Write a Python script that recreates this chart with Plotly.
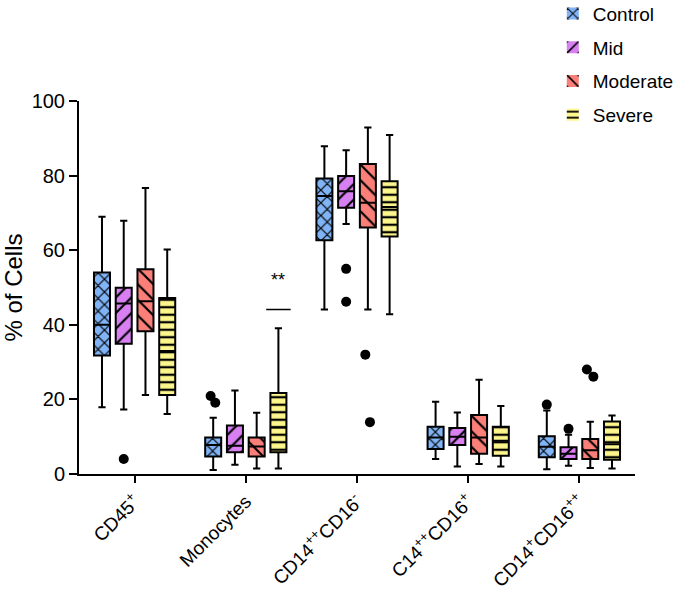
import plotly.graph_objects as go

categories = ["CD45<sup>+</sup>", "Monocytes", "CD14<sup>++</sup>CD16<sup>-</sup>",
              "C14<sup>++</sup>CD16<sup>+</sup>", "CD14<sup>+</sup>CD16<sup>++</sup>"]
groups = ["Control", "Mid", "Moderate", "Severe"]

# per group: values for the five categories
q1 = {
    "Control":  [31.8, 4.7, 62.7, 6.7, 4.5],
    "Mid":      [34.9, 5.8, 71.4, 7.8, 4.0],
    "Moderate": [38.3, 4.7, 66.1, 5.4, 4.0],
    "Severe":   [21.2, 5.8, 63.7, 4.9, 3.8],
}
median = {
    "Control":  [40.0, 7.8, 74.5, 9.8, 7.3],
    "Mid":      [45.7, 7.6, 75.8, 10.0, 5.4],
    "Moderate": [46.3, 7.4, 72.7, 9.8, 6.4],
    "Severe":   [33.0, 12.5, 71.6, 8.9, 8.0],
}
q3 = {
    "Control":  [54.0, 9.8, 79.2, 12.7, 10.1],
    "Mid":      [49.9, 13.0, 79.9, 12.3, 7.2],
    "Moderate": [54.9, 9.8, 83.1, 15.8, 9.4],
    "Severe":   [47.2, 21.7, 78.5, 12.7, 14.1],
}
lower = {
    "Control":  [17.9, 1.1, 44.1, 4.0, 1.3],
    "Mid":      [17.3, 2.5, 67.0, 2.0, 2.2],
    "Moderate": [21.2, 1.5, 44.1, 2.7, 1.6],
    "Severe":   [16.1, 1.5, 42.8, 2.0, 1.5],
}
upper = {
    "Control":  [69.0, 15.1, 87.9, 19.4, 17.0],
    "Mid":      [67.9, 22.4, 86.8, 16.5, 10.5],
    "Moderate": [76.7, 16.4, 92.9, 25.3, 14.0],
    "Severe":   [60.2, 39.1, 90.9, 18.2, 15.7],
}
outliers = {
    "Control":  [[], [20.9, 19.1], [], [], [18.6]],
    "Mid":      [[4.0], [], [55.0, 46.2], [], [12.1]],
    "Moderate": [[], [], [32.0, 13.9], [], [28.0, 26.1]],
    "Severe":   [[], [], [], [], []],
}

colors = {"Control": "#80b4f6", "Mid": "#d880f2", "Moderate": "#fb7f79", "Severe": "#fdf68c"}
patterns = {"Control": ("x", 9, 0.25), "Mid": ("/", 11, 0.2),
            "Moderate": ("\\", 11, 0.2), "Severe": ("-", 7.5, 0.3)}
jitters = {"Control": 0.5, "Mid": 0, "Moderate": 0.5, "Severe": 0}

GAP = 0.218
GROUPGAP = 0.263
FONT = "Liberation Sans, Arial, sans-serif"

fig = go.Figure()

for g in groups:
    shape, size, sol = patterns[g]
    fig.add_trace(go.Bar(
        x=categories,
        y=[b - a for a, b in zip(q1[g], q3[g])],
        base=q1[g],
        name=g,
        legendgroup=g,
        marker=dict(color=colors[g], line=dict(width=0),
                    pattern=dict(shape=shape, fgcolor="black", bgcolor=colors[g],
                                 size=size, solidity=sol, fgopacity=1)),
    ))

for g in groups:
    # boxes without outliers get their median as a (non-outlier, hidden) sample point
    samples = [pts if pts else [m] for pts, m in zip(outliers[g], median[g])]
    fig.add_trace(go.Box(
        x=categories,
        q1=q1[g], median=median[g], q3=q3[g],
        lowerfence=lower[g], upperfence=upper[g],
        y=samples,
        boxpoints="outliers", jitter=jitters[g], pointpos=0,
        name=g, legendgroup=g, showlegend=False,
        fillcolor="rgba(0,0,0,0)",
        line=dict(color="black", width=2),
        marker=dict(color="black", size=10),
        whiskerwidth=0.45,
    ))

sev_center = 1 + 1.5 * (1 - GAP) / 4
fig.add_shape(type="line", xref="x", yref="y", x0=sev_center - 0.11, x1=sev_center + 0.11,
              y0=44.1, y1=44.1, line=dict(color="black", width=1.5))
fig.add_annotation(x=sev_center, y=44.1, xref="x", yref="y", text="**", showarrow=False,
                   yshift=30, font=dict(size=18, color="black", family=FONT))

fig.update_layout(
    width=685, height=593,
    margin=dict(l=79, r=50, t=101, b=119, autoexpand=False),
    paper_bgcolor="white", plot_bgcolor="white",
    barmode="group", bargap=GAP, bargroupgap=GROUPGAP,
    boxmode="group", boxgap=GAP, boxgroupgap=GROUPGAP,
    font=dict(family=FONT, color="black", size=19),
    legend=dict(xref="container", yref="paper", x=0.807, y=1.285,
                xanchor="left", yanchor="top",
                font=dict(size=19), tracegroupgap=6, traceorder="grouped",
                bgcolor="rgba(0,0,0,0)"),
    xaxis=dict(range=[-0.5, 4.5], showline=True, linecolor="black", linewidth=2,
               ticks="outside", ticklen=7, tickwidth=2, tickcolor="black", automargin=False,
               tickangle=-45, tickfont=dict(size=19), showgrid=False, zeroline=False),
    yaxis=dict(range=[0, 100], tickvals=[0, 20, 40, 60, 80, 100], showline=True,
               linecolor="black", linewidth=2, ticks="outside", ticklen=8, tickwidth=2,
               tickcolor="black", tickfont=dict(size=20), showgrid=False, zeroline=False,
               automargin=False,
               title=dict(text="% of Cells", font=dict(size=24), standoff=8)),
)

fig.write_html("out.html", config={"displayModeBar": False},
               post_script="document.body.style.margin='0';")
